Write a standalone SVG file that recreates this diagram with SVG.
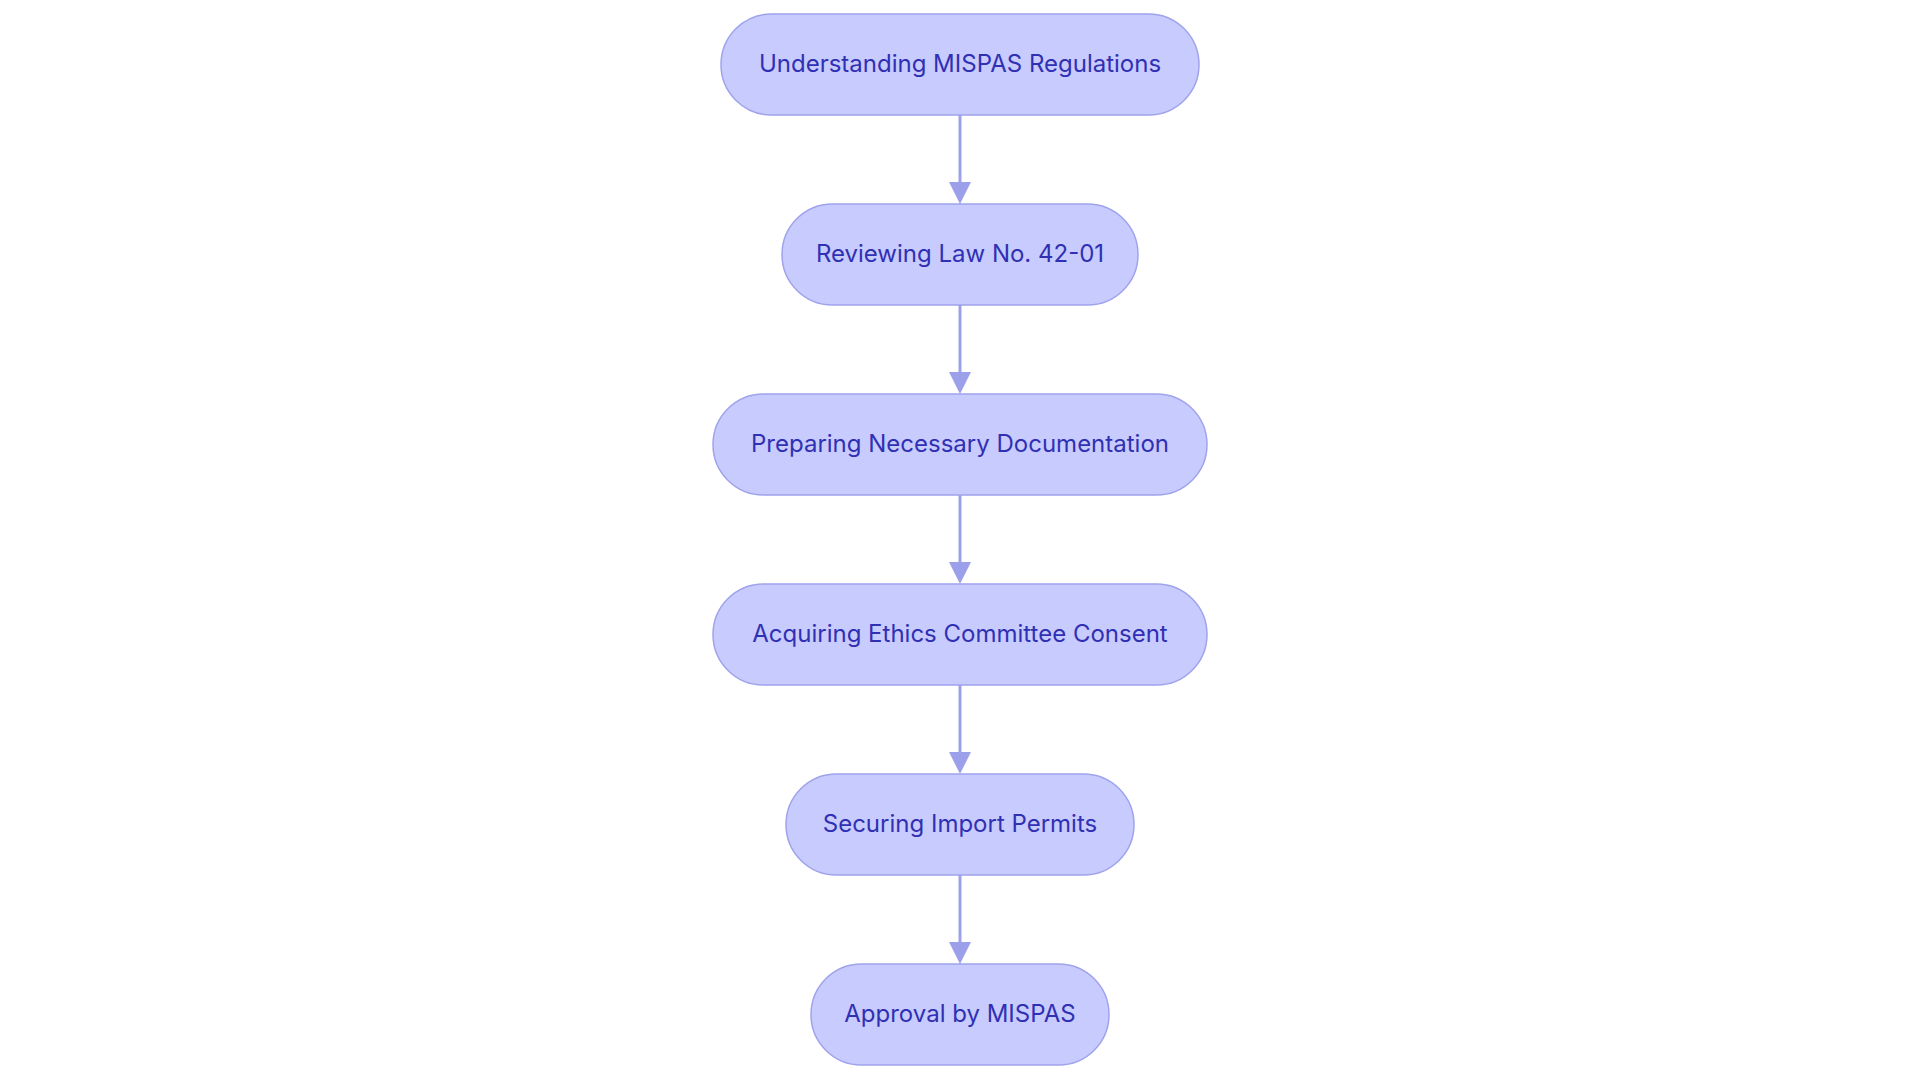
<svg xmlns="http://www.w3.org/2000/svg" width="1920" height="1083" viewBox="0 0 1920 1083">
<style>
.node rect{fill:#c8cbfd;stroke:#9fa3ec;stroke-width:1.5}
.node text{font-family:Inter,"Noto Sans",sans-serif;font-size:24px;fill:#3030b4;text-anchor:middle;dominant-baseline:central}
.edge{stroke:#9ca0eb;stroke-width:3;fill:none}
.head{fill:#9ca0eb}
</style>
<rect width="1920" height="1083" fill="#ffffff"/>
<g id="connectors">
<line class="edge" x1="960" y1="115" x2="960" y2="183"/>
<path class="head" d="M949,182 L971,182 L960,204 Z"/>
<line class="edge" x1="960" y1="305" x2="960" y2="373"/>
<path class="head" d="M949,372 L971,372 L960,394 Z"/>
<line class="edge" x1="960" y1="495" x2="960" y2="563"/>
<path class="head" d="M949,562 L971,562 L960,584 Z"/>
<line class="edge" x1="960" y1="685" x2="960" y2="753"/>
<path class="head" d="M949,752 L971,752 L960,774 Z"/>
<line class="edge" x1="960" y1="875" x2="960" y2="943"/>
<path class="head" d="M949,942 L971,942 L960,964 Z"/>
</g>
<g id="n1" class="node"><rect x="721" y="14" width="478" height="101" rx="50.5"/><text x="960" y="63">Understanding MISPAS Regulations</text></g>
<g id="n2" class="node"><rect x="782" y="204" width="356" height="101" rx="50.5"/><text x="960" y="253">Reviewing Law No. 42-01</text></g>
<g id="n3" class="node"><rect x="713" y="394" width="494" height="101" rx="50.5"/><text x="960" y="443">Preparing Necessary Documentation</text></g>
<g id="n4" class="node"><rect x="713" y="584" width="494" height="101" rx="50.5"/><text x="960" y="633">Acquiring Ethics Committee Consent</text></g>
<g id="n5" class="node"><rect x="786" y="774" width="348" height="101" rx="50.5"/><text x="960" y="823">Securing Import Permits</text></g>
<g id="n6" class="node"><rect x="811" y="964" width="298" height="101" rx="50.5"/><text x="960" y="1013">Approval by MISPAS</text></g>
</svg>
